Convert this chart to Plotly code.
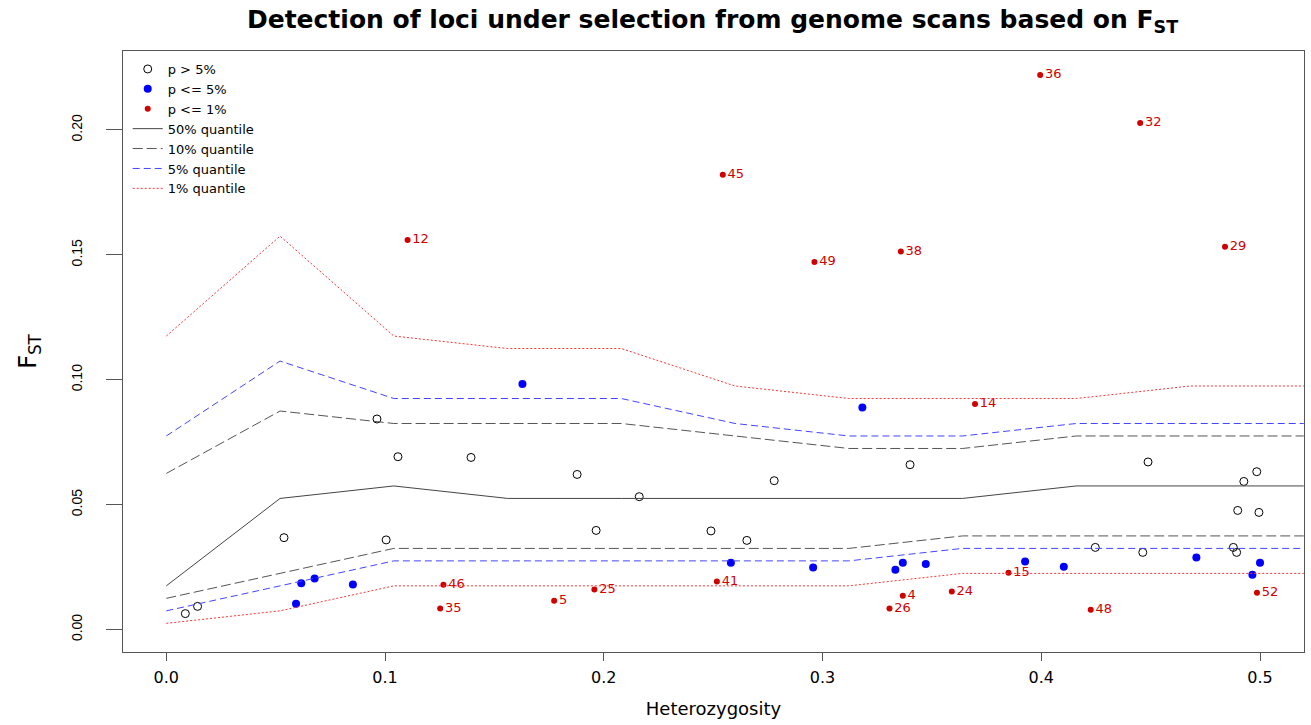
import plotly.graph_objects as go

# ---- quantile envelopes (heterozygosity bins) ----
het_grid = [0.0, 0.052, 0.104, 0.156, 0.208, 0.26, 0.312, 0.364, 0.416, 0.468, 0.52]
q50 = [0.0175, 0.0525, 0.0575, 0.0525, 0.0525, 0.0525, 0.0525, 0.0525, 0.0575, 0.0575, 0.0575]
q10_hi = [0.0625, 0.0875, 0.0825, 0.0825, 0.0825, 0.0775, 0.0725, 0.0725, 0.0775, 0.0775, 0.0775]
q10_lo = [0.0125, 0.0225, 0.0325, 0.0325, 0.0325, 0.0325, 0.0325, 0.0375, 0.0375, 0.0375, 0.0375]
q5_hi = [0.0775, 0.1075, 0.0925, 0.0925, 0.0925, 0.0825, 0.0775, 0.0775, 0.0825, 0.0825, 0.0825]
q5_lo = [0.0075, 0.0175, 0.0275, 0.0275, 0.0275, 0.0275, 0.0275, 0.0325, 0.0325, 0.0325, 0.0325]
q1_hi = [0.1175, 0.1575, 0.1175, 0.1125, 0.1125, 0.0975, 0.0925, 0.0925, 0.0925, 0.0975, 0.0975]
q1_lo = [0.0025, 0.0075, 0.0175, 0.0175, 0.0175, 0.0175, 0.0175, 0.0225, 0.0225, 0.0225, 0.0225]

# ---- loci: p > 5% ----
ns_het = [0.0087, 0.0143, 0.0538, 0.0963, 0.1005, 0.1059, 0.1393, 0.1878, 0.1965, 0.2162, 0.249,
          0.2654, 0.2779, 0.34, 0.4488, 0.4985, 0.4926, 0.4898, 0.4995, 0.4247, 0.4464, 0.4878, 0.4893]
ns_fst = [0.0064, 0.0093, 0.0368, 0.0843, 0.0359, 0.0692, 0.0689, 0.0621, 0.0397, 0.0532, 0.0395,
          0.0357, 0.0596, 0.066, 0.0671, 0.0632, 0.0593, 0.0477, 0.0469, 0.0329, 0.0309, 0.0329, 0.0309]

# ---- loci: p <= 5% ----
p5_het = [0.1628, 0.0617, 0.0678, 0.0853, 0.0593, 0.2581, 0.2957, 0.3333, 0.3367, 0.3472, 0.3182,
          0.3926, 0.4103, 0.4709, 0.5, 0.4965]
p5_fst = [0.0983, 0.0185, 0.0205, 0.018, 0.0103, 0.0268, 0.0249, 0.024, 0.0268, 0.0263, 0.0889,
          0.0273, 0.0252, 0.0289, 0.0268, 0.022]

# ---- loci: p <= 1% (labelled) ----
p1_id = ["36", "32", "45", "12", "29", "38", "49", "14", "46", "35", "5", "25", "41", "4", "26",
         "24", "15", "48", "52"]
p1_het = [0.3995, 0.4452, 0.2544, 0.1103, 0.484, 0.3358, 0.2963, 0.3697, 0.1267, 0.1252, 0.1773,
          0.1957, 0.2517, 0.3367, 0.3306, 0.3591, 0.385, 0.4226, 0.4986]
p1_fst = [0.222, 0.2028, 0.1821, 0.1559, 0.1532, 0.1513, 0.1471, 0.0903, 0.0179, 0.0084, 0.0115,
          0.016, 0.0192, 0.0135, 0.0084, 0.0152, 0.0228, 0.0079, 0.0147]

x_ticks = [0.0, 0.1, 0.2, 0.3, 0.4, 0.5]
y_ticks = [0.00, 0.05, 0.10, 0.15, 0.20]

FONT = "DejaVu Sans"
RED = "#D00000"

fig = go.Figure()

fig.add_trace(go.Scatter(x=ns_het, y=ns_fst, mode="markers", name="p &gt; 5%",
                         marker=dict(symbol="circle-open", size=8, color="black",
                                     line=dict(width=1, color="black"))))
fig.add_trace(go.Scatter(x=p5_het, y=p5_fst, mode="markers", name="p &lt;= 5%",
                         marker=dict(symbol="circle", size=8, color="#0000FF")))
fig.add_trace(go.Scatter(x=p1_het, y=p1_fst, mode="markers+text", name="p &lt;= 1%",
                         text=p1_id, textposition="middle right",
                         textfont=dict(family=FONT, size=13, color=RED),
                         marker=dict(symbol="circle", size=6, color=RED)))


def both(hi, lo):
    return het_grid + [None] + het_grid, hi + [None] + lo


fig.add_trace(go.Scatter(x=het_grid, y=q50, mode="lines", name="50% quantile",
                         line=dict(color="#444444", width=1)))
xx, yy = both(q10_hi, q10_lo)
fig.add_trace(go.Scatter(x=xx, y=yy, mode="lines", name="10% quantile",
                         line=dict(color="#555555", width=1, dash="10px,4px")))
xx, yy = both(q5_hi, q5_lo)
fig.add_trace(go.Scatter(x=xx, y=yy, mode="lines", name="5% quantile",
                         line=dict(color="#4444FF", width=1, dash="7px,4px")))
xx, yy = both(q1_hi, q1_lo)
fig.add_trace(go.Scatter(x=xx, y=yy, mode="lines", name="1% quantile",
                         line=dict(color="#FF3333", width=1, dash="2px,2px")))

fig.update_layout(
    width=1311, height=725,
    paper_bgcolor="white", plot_bgcolor="white",
    margin=dict(l=123, r=7, t=51, b=73),
    font=dict(family=FONT, color="black"),
    title=dict(text="<b>Detection of loci under selection from genome scans based on F<sub>ST</sub></b>",
               x=0.5435, xanchor="center", y=0.974, yanchor="middle",
               font=dict(family=FONT, size=25, color="black")),
    showlegend=True,
    legend=dict(x=0.004, y=0.995, xanchor="left", yanchor="top",
                bgcolor="rgba(255,255,255,0)", borderwidth=0,
                font=dict(family=FONT, size=13, color="black"),
                itemwidth=30, tracegroupgap=0),
    xaxis=dict(range=[-0.0198, 0.5201], tickvals=x_ticks, tickformat=".1f",
               showgrid=False, zeroline=False, showline=True, mirror=True,
               linecolor="#555555", linewidth=1, ticks="outside", ticklen=8,
               tickcolor="#555555", ticklabelstandoff=3,
               tickfont=dict(family=FONT, size=16, color="black"),
               title=dict(text="Heterozygosity", standoff=16,
                          font=dict(family=FONT, size=18, color="black"))),
    yaxis=dict(range=[-0.00897, 0.2316], tickvals=y_ticks, tickformat=".2f",
               showgrid=False, zeroline=False, showline=True, mirror=True,
               linecolor="#555555", linewidth=1, ticks="outside", ticklen=16,
               tickcolor="#555555", tickangle=-90, ticklabelstandoff=18,
               tickfont=dict(family="Liberation Sans", size=14, color="black"),
               title=dict(text="F<sub>ST</sub>", standoff=26,
                          font=dict(family=FONT, size=24, color="black"))),
)

# remove the default 8px page margin so the figure fills the 1311x725 window exactly
fig.write_html("out.html", config={"displayModeBar": False},
               post_script="document.body.style.margin='0';")
